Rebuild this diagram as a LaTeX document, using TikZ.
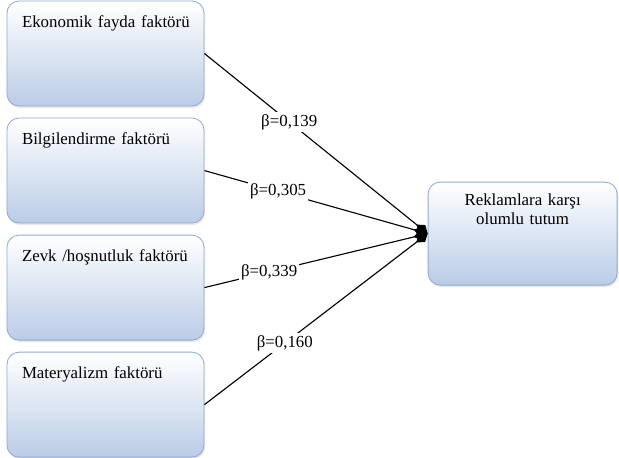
\documentclass[tikz,border=0pt]{standalone}
\usepackage{fontspec}
\setmainfont{Liberation Serif}
\usetikzlibrary{arrows.meta, positioning, shadows}
\definecolor{kenar}{RGB}{143,170,215}
\definecolor{dolgu}{RGB}{186,204,230}
\tikzset{
  faktor/.style={
    rectangle,
    rounded corners=0.3cm,
    draw=kenar,
    line width=0.6pt,
    top color=white,
    bottom color=dolgu,
    drop shadow={opacity=0.18, shadow xshift=0.03cm, shadow yshift=-0.05cm},
    align=left,
    minimum width=4.925cm,
    minimum height=2.625cm,
    text width=4.45cm,
    inner xsep=0.2375cm,
    inner ysep=0.3cm,
    text height=0.35cm,
    text depth=1.675cm,
    font=\fontsize{12}{14}\selectfont
  },
  sonuc/.style={
    faktor,
    align=center,
    minimum width=4.725cm,
    minimum height=2.575cm,
    text width=4.25cm,
    text height=0.275cm,
    text depth=1.7cm,
    font=\fontsize{12}{13.5}\selectfont
  },
  etki/.style={-{Diamond[length=0.36cm, width=0.26cm]}, line width=0.8pt},
  beta/.style={fill=white, inner sep=1.5pt, font=\fontsize{12}{14}\selectfont}
}
\begin{document}
\begin{tikzpicture}[node distance=0.28cm]
  \useasboundingbox (0,0) rectangle (15.475,-11.425);

  \node[faktor] (ekonomik) at (2.6375,-1.3375) {\hspace*{0.1375cm}Ekonomik fayda faktörü};
  \node[faktor, below=of ekonomik] (bilgi) {\hspace*{0.1375cm}Bilgilendirme faktörü};
  \node[faktor, below=of bilgi] (zevk) {\hspace*{0.1375cm}Zevk /hoşnutluk faktörü};
  \node[faktor, below=of zevk] (materyal) {\hspace*{0.1375cm}Materyalizm faktörü};

  \node[sonuc] (tutum) at (13.065,-5.84) {Reklamlara karşı\\olumlu tutum};

  \draw[etki] (ekonomik.east) -- node[beta, pos=0.38]{β=0,139} (tutum.west);
  \draw[etki] (bilgi.east) -- node[beta, pos=0.33]{β=0,305} (tutum.west);
  \draw[etki] (zevk.east) -- node[beta, pos=0.29]{β=0,339} (tutum.west);
  \draw[etki] (materyal.east) -- node[beta, pos=0.36]{β=0,160} (tutum.west);
\end{tikzpicture}
\end{document}
